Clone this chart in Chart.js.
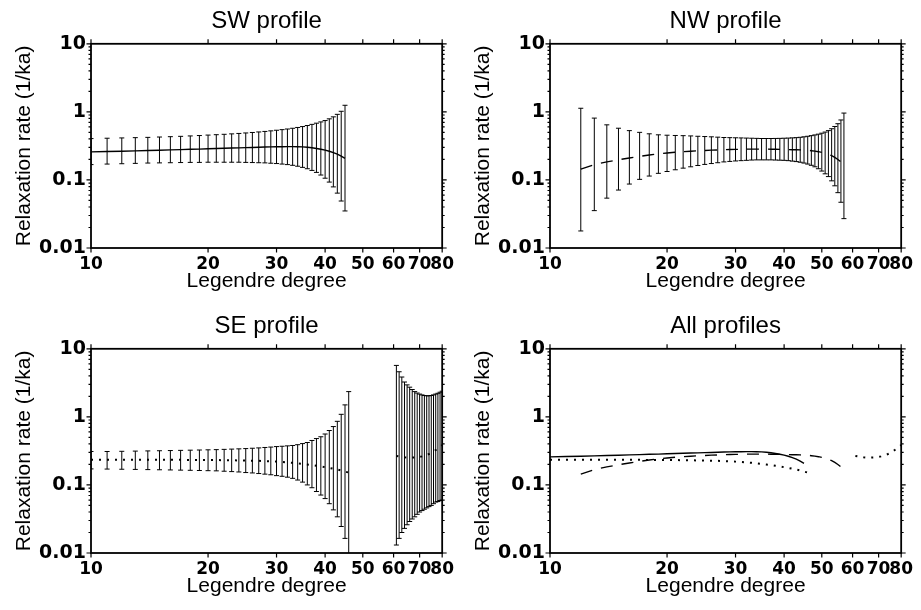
<!DOCTYPE html>
<html>
<head>
<meta charset="utf-8">
<script src="https://cdn.jsdelivr.net/npm/chart.js@4.4.0/dist/chart.umd.min.js"></script>
<style>
  body { margin: 0; background: #fff; width: 921px; height: 610px; position: relative; overflow: hidden; }
  canvas { position: absolute; }
</style>
</head>
<body>
<canvas id="sw" width="460" height="305" style="left:0;top:0"></canvas>
<canvas id="nw" width="460" height="305" style="left:459px;top:0"></canvas>
<canvas id="se" width="460" height="305" style="left:0;top:305px"></canvas>
<canvas id="all" width="460" height="305" style="left:459px;top:305px"></canvas>
<script>
// axis ticks
const xTicks = [10, 20, 30, 40, 50, 60, 70, 80];
const yTicks = [0.01, 0.1, 1, 10];
const yTickLabels = ['0.01', '0.1', '1', '10'];

// SW profile
const swDegrees = [10, 11, 12, 13, 14, 15, 16, 17, 18, 19, 20, 21, 22, 23, 24, 25, 26, 27, 28, 29,
  30, 31, 32, 33, 34, 35, 36, 37, 38, 39, 40, 41, 42, 43, 44, 45];
const swRate = [0.258, 0.261, 0.264, 0.267, 0.270, 0.273, 0.276, 0.279, 0.282, 0.284, 0.287, 0.289,
  0.292, 0.294, 0.296, 0.298, 0.300, 0.302, 0.304, 0.306, 0.307, 0.308, 0.309, 0.309, 0.308, 0.306,
  0.302, 0.297, 0.290, 0.282, 0.274, 0.264, 0.252, 0.239, 0.224, 0.208];
const swUpper = [0.405, 0.41, 0.414, 0.418, 0.422, 0.427, 0.432, 0.437, 0.443, 0.449, 0.456, 0.462,
  0.468, 0.475, 0.482, 0.49, 0.498, 0.507, 0.516, 0.526, 0.537, 0.548, 0.56, 0.574, 0.59, 0.608,
  0.63, 0.655, 0.682, 0.712, 0.745, 0.79, 0.845, 0.92, 1.02, 1.25];
const swLower = [0.168, 0.171, 0.173, 0.175, 0.177, 0.178, 0.179, 0.180, 0.181, 0.181, 0.182, 0.182,
  0.182, 0.182, 0.182, 0.181, 0.180, 0.179, 0.178, 0.176, 0.174, 0.171, 0.168, 0.164, 0.159, 0.153,
  0.146, 0.138, 0.129, 0.118, 0.106, 0.093, 0.079, 0.064, 0.049, 0.035];

// NW profile
const nwDegrees = [12, 13, 14, 15, 16, 17, 18, 19, 20, 21, 22, 23, 24, 25, 26, 27, 28, 29, 30, 31,
  32, 33, 34, 35, 36, 37, 38, 39, 40, 41, 42, 43, 44, 45, 46, 47, 48, 49, 50, 51, 52, 53, 54, 55, 56, 57];
const nwRate = [0.144, 0.168, 0.184, 0.198, 0.210, 0.222, 0.232, 0.242, 0.249, 0.255, 0.260, 0.264,
  0.268, 0.271, 0.274, 0.276, 0.278, 0.280, 0.281, 0.282, 0.283, 0.284, 0.284, 0.284, 0.284, 0.283,
  0.282, 0.281, 0.280, 0.279, 0.278, 0.277, 0.276, 0.274, 0.272, 0.269, 0.265, 0.260, 0.254, 0.247,
  0.238, 0.227, 0.214, 0.200, 0.184, 0.165];
const nwUpper = [1.13, 0.81, 0.645, 0.575, 0.53, 0.50, 0.476, 0.46, 0.454, 0.45, 0.447, 0.443,
  0.438, 0.434, 0.43, 0.425, 0.42, 0.418, 0.416, 0.414, 0.412, 0.41, 0.408, 0.406, 0.406, 0.406,
  0.407, 0.408, 0.41, 0.412, 0.415, 0.418, 0.423, 0.43, 0.438, 0.447, 0.458, 0.47, 0.486, 0.505,
  0.53, 0.565, 0.61, 0.67, 0.76, 0.96];
const nwLower = [0.0178, 0.0354, 0.054, 0.071, 0.087, 0.102, 0.114, 0.125, 0.133, 0.141, 0.149, 0.156,
  0.163, 0.169, 0.174, 0.179, 0.184, 0.187, 0.190, 0.192, 0.194, 0.196, 0.197, 0.197, 0.197, 0.197,
  0.196, 0.195, 0.194, 0.192, 0.189, 0.186, 0.182, 0.177, 0.171, 0.164, 0.156, 0.146, 0.135, 0.123,
  0.112, 0.097, 0.082, 0.065, 0.047, 0.027];

// SE profile, low degrees
const seDegreesLow = [10, 11, 12, 13, 14, 15, 16, 17, 18, 19, 20, 21, 22, 23, 24, 25, 26, 27, 28, 29,
  30, 31, 32, 33, 34, 35, 36, 37, 38, 39, 40, 41, 42, 43, 44, 45, 46];
const seRateLow = [0.234, 0.234, 0.234, 0.234, 0.234, 0.234, 0.234, 0.234, 0.233, 0.233, 0.233, 0.232,
  0.231, 0.230, 0.229, 0.228, 0.227, 0.226, 0.224, 0.222, 0.220, 0.217, 0.214, 0.211, 0.207, 0.204,
  0.200, 0.196, 0.191, 0.187, 0.182, 0.178, 0.173, 0.168, 0.163, 0.157, 0.152];
const seUpperLow = [0.31, 0.31, 0.312, 0.314, 0.316, 0.318, 0.32, 0.322, 0.324, 0.326, 0.328, 0.33,
  0.333, 0.336, 0.339, 0.342, 0.346, 0.35, 0.355, 0.36, 0.366, 0.37, 0.375, 0.38, 0.39, 0.405,
  0.42, 0.45, 0.48, 0.51, 0.56, 0.63, 0.72, 0.86, 1.09, 1.5, 2.35];
const seLowerLow = [0.172, 0.171, 0.170, 0.169, 0.168, 0.167, 0.166, 0.165, 0.164, 0.163, 0.162, 0.161,
  0.159, 0.157, 0.155, 0.152, 0.150, 0.147, 0.144, 0.141, 0.137, 0.134, 0.130, 0.125, 0.118, 0.110,
  0.100, 0.091, 0.080, 0.071, 0.063, 0.053, 0.043, 0.034, 0.0245, 0.0164, 0.0098];

// SE profile, high degrees
const seDegreesHigh = [61, 62, 63, 64, 65, 66, 67, 68, 69, 70, 71, 72, 73, 74, 75, 76, 77, 78, 79, 80];
const seRateHigh = [0.267, 0.263, 0.258, 0.255, 0.253, 0.252, 0.252, 0.253, 0.255, 0.258, 0.263,
  0.269, 0.276, 0.285, 0.296, 0.31, 0.326, 0.345, 0.365, 0.385];
const seUpperHigh = [5.7, 4.6, 3.85, 3.25, 2.95, 2.73, 2.52, 2.35, 2.24, 2.16, 2.1, 2.06, 2.04, 2.04,
  2.06, 2.1, 2.16, 2.22, 2.3, 2.38];
const seLowerHigh = [0.0131, 0.0164, 0.020, 0.023, 0.026, 0.029, 0.0316, 0.034, 0.037, 0.040, 0.042,
  0.044, 0.046, 0.048, 0.050, 0.053, 0.056, 0.057, 0.059, 0.060];

const points = (degrees, rate) => degrees.map((d, i) => ({ x: d, y: rate[i] }));

const SOLID = [];
const DASHED = [12, 9];
const DOTTED = [2, 6];

// error bars with small caps, clipped to the plot frame
const errorBarPlugin = {
  id: 'errorBars',
  afterDatasetsDraw(chart) {
    const { ctx, chartArea: a, scales: { x, y } } = chart;
    ctx.save();
    ctx.beginPath();
    ctx.rect(a.left, a.top, a.right - a.left, a.bottom - a.top);
    ctx.clip();
    ctx.strokeStyle = '#000';
    ctx.lineWidth = 1;
    chart.data.datasets.forEach(ds => {
      if (!ds.upper) return;
      ds.data.forEach((p, i) => {
        const px = x.getPixelForValue(p.x);
        const yu = y.getPixelForValue(ds.upper[i]);
        const yl = y.getPixelForValue(ds.lower[i]);
        ctx.beginPath();
        ctx.moveTo(px, yu); ctx.lineTo(px, yl);
        ctx.moveTo(px - 2.5, yu); ctx.lineTo(px + 2.5, yu);
        ctx.moveTo(px - 2.5, yl); ctx.lineTo(px + 2.5, yl);
        ctx.stroke();
      });
    });
    ctx.restore();
  }
};

// frame with outward ticks on all four sides
const framePlugin = {
  id: 'frame',
  afterDraw(chart) {
    const { ctx, chartArea: a, scales: { x, y } } = chart;
    ctx.save();
    ctx.strokeStyle = '#000';
    ctx.lineWidth = 1.8;
    ctx.strokeRect(a.left, a.top, a.right - a.left, a.bottom - a.top);
    ctx.lineWidth = 1.2;
    ctx.beginPath();
    xTicks.forEach(v => {
      const px = x.getPixelForValue(v);
      ctx.moveTo(px, a.bottom); ctx.lineTo(px, a.bottom + 4.5);
      ctx.moveTo(px, a.top); ctx.lineTo(px, a.top - 4.5);
    });
    yTicks.forEach(v => {
      const py = y.getPixelForValue(v);
      ctx.moveTo(a.left, py); ctx.lineTo(a.left - 4.5, py);
      ctx.moveTo(a.right, py); ctx.lineTo(a.right + 4.5, py);
    });
    yTicks.slice(0, -1).forEach(d => {
      for (let k = 2; k < 10; k++) {
        const py = y.getPixelForValue(d * k);
        ctx.moveTo(a.left, py); ctx.lineTo(a.left - 2.5, py);
        ctx.moveTo(a.right, py); ctx.lineTo(a.right + 2.5, py);
      }
    });
    ctx.stroke();
    ctx.restore();
  }
};

const lineSet = (data, dash, extra) => Object.assign({
  data,
  borderColor: '#000',
  borderWidth: dash === DOTTED ? 2 : 1.4,
  borderDash: dash,
  pointRadius: 0,
  tension: 0,
  fill: false
}, extra || {});

const makeOptions = title => ({
  responsive: false,
  animation: false,
  events: [],
  layout: { padding: { left: 0, right: 12, top: 0, bottom: 0 } },
  plugins: {
    legend: { display: false },
    tooltip: { enabled: false },
    title: {
      display: true, text: title, fullSize: false, color: '#000',
      font: { family: 'Liberation Sans', size: 24, weight: 'normal' },
      padding: { top: 7, bottom: 8 }
    }
  },
  scales: {
    x: {
      type: 'logarithmic', min: 10, max: 80,
      afterBuildTicks: s => { s.ticks = xTicks.map(v => ({ value: v })); },
      afterFit: s => { s.height = 57; },
      ticks: {
        autoSkip: false, maxRotation: 0, minRotation: 0, padding: 6, color: '#000',
        font: { family: 'DejaVu Sans', size: 17, weight: 'bold' },
        callback: v => String(v)
      },
      grid: { display: false, drawTicks: false },
      border: { display: false },
      title: {
        display: true, text: 'Legendre degree', color: '#000',
        font: { family: 'Liberation Sans', size: 21 },
        padding: { top: 0, bottom: 11 }
      }
    },
    y: {
      type: 'logarithmic', min: 0.01, max: 10,
      afterBuildTicks: s => { s.ticks = yTicks.map(v => ({ value: v })); },
      afterFit: s => { s.width = 91; },
      ticks: {
        autoSkip: false, padding: 5, color: '#000',
        font: { family: 'DejaVu Sans', size: 19, weight: 'bold' },
        callback: v => yTickLabels[yTicks.indexOf(v)]
      },
      grid: { display: false, drawTicks: false },
      border: { display: false },
      title: {
        display: true, text: 'Relaxation rate (1/ka)', color: '#000',
        font: { family: 'Liberation Sans', size: 21 },
        padding: { top: 12, bottom: 0 }
      }
    }
  }
});

const plugins = [errorBarPlugin, framePlugin];

new Chart(document.getElementById('sw'), {
  type: 'line',
  data: { datasets: [lineSet(points(swDegrees, swRate), SOLID, { upper: swUpper, lower: swLower })] },
  options: makeOptions('SW profile'),
  plugins
});

new Chart(document.getElementById('nw'), {
  type: 'line',
  data: { datasets: [lineSet(points(nwDegrees, nwRate), DASHED, { upper: nwUpper, lower: nwLower })] },
  options: makeOptions('NW profile'),
  plugins
});

new Chart(document.getElementById('se'), {
  type: 'line',
  data: {
    datasets: [
      lineSet(points(seDegreesLow, seRateLow), DOTTED, { upper: seUpperLow, lower: seLowerLow }),
      lineSet(points(seDegreesHigh, seRateHigh), DOTTED, { upper: seUpperHigh, lower: seLowerHigh })
    ]
  },
  options: makeOptions('SE profile'),
  plugins
});

new Chart(document.getElementById('all'), {
  type: 'line',
  data: {
    datasets: [
      lineSet(points(swDegrees, swRate), SOLID),
      lineSet(points(nwDegrees, nwRate), DASHED),
      lineSet(points(seDegreesLow, seRateLow), DOTTED),
      lineSet(points(seDegreesHigh, seRateHigh), DOTTED)
    ]
  },
  options: makeOptions('All profiles'),
  plugins
});
</script>
</body>
</html>
